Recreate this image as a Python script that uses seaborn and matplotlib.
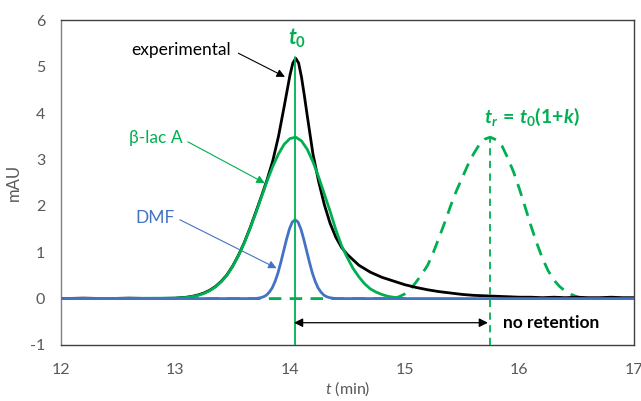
import matplotlib
matplotlib.use("Agg")
import matplotlib.pyplot as plt
import seaborn as sns
import pandas as pd

# ---------------- data ----------------
black_t = [12.0, 12.2, 12.4, 12.6, 12.8, 13.0, 13.1, 13.15, 13.2, 13.25, 13.3, 13.35, 13.4,
           13.45, 13.5, 13.55, 13.6, 13.65, 13.7, 13.75, 13.8, 13.85, 13.9, 13.95, 14.0,
           14.025, 14.05, 14.075, 14.1, 14.125, 14.15, 14.2, 14.25, 14.3, 14.35, 14.4,
           14.45, 14.5, 14.6, 14.7, 14.8, 14.9, 15.0, 15.1, 15.2, 15.3, 15.4, 15.5, 15.6,
           15.7, 15.8, 15.9, 16.0, 16.1, 16.2, 16.3, 16.4, 16.5, 16.6, 16.7, 16.8, 16.9, 17.0]
black_v = [0.0, 0.01, 0.0, 0.01, 0.0, 0.01, 0.03, 0.05, 0.08, 0.12, 0.18, 0.26, 0.37,
           0.51, 0.70, 0.93, 1.20, 1.51, 1.85, 2.20, 2.56, 2.97, 3.50, 4.15, 4.82,
           5.08, 5.18, 5.08, 4.78, 4.38, 3.95, 3.12, 2.52, 2.02, 1.62, 1.32,
           1.10, 0.95, 0.72, 0.57, 0.46, 0.38, 0.30, 0.24, 0.19, 0.15, 0.12, 0.09, 0.07,
           0.06, 0.05, 0.04, 0.03, 0.03, 0.02, 0.03, 0.02, 0.03, 0.02, 0.02, 0.03, 0.02, 0.02]

lacA_t = [12.0, 13.0, 13.1, 13.15, 13.2, 13.25, 13.3, 13.35, 13.4, 13.45, 13.5, 13.55, 13.6,
          13.65, 13.7, 13.75, 13.8, 13.85, 13.9, 13.95, 14.0, 14.05, 14.1, 14.15, 14.2,
          14.25, 14.3, 14.35, 14.4, 14.45, 14.5, 14.55, 14.6, 14.65, 14.7, 14.75, 14.8,
          14.85, 14.9, 14.95, 15.0]
lacA_v = [0.0, 0.01, 0.025, 0.045, 0.07, 0.11, 0.17, 0.25, 0.36, 0.50, 0.69, 0.92, 1.19,
          1.50, 1.83, 2.18, 2.53, 2.85, 3.12, 3.33, 3.45, 3.48, 3.40, 3.22, 2.95,
          2.62, 2.25, 1.88, 1.48, 1.14, 0.88, 0.65, 0.47, 0.32, 0.21, 0.14, 0.09,
          0.05, 0.03, 0.01, 0.0]

ret_t = [12.0, 14.9, 14.95, 15.0, 15.05, 15.1, 15.15, 15.2, 15.25, 15.3, 15.35, 15.4, 15.45,
         15.5, 15.55, 15.6, 15.65, 15.7, 15.745, 15.8, 15.85, 15.9, 15.95, 16.0, 16.05,
         16.1, 16.15, 16.2, 16.25, 16.3, 16.35, 16.4, 16.45, 16.5, 16.55, 16.6, 17.0]
ret_v = [0.0, 0.0, 0.04, 0.10, 0.20, 0.36, 0.53, 0.72, 1.00, 1.32, 1.65, 2.00, 2.32,
         2.60, 2.88, 3.12, 3.32, 3.44, 3.48, 3.42, 3.28, 3.02, 2.72, 2.36, 1.97,
         1.57, 1.20, 0.87, 0.60, 0.40, 0.26, 0.16, 0.09, 0.04, 0.01, 0.0, 0.0]

dmf_t = [12.0, 13.7, 13.745, 13.77, 13.795, 13.82, 13.845, 13.87, 13.895, 13.92, 13.945,
         13.97, 13.995, 14.02, 14.045, 14.07, 14.095, 14.12, 14.145, 14.17, 14.195, 14.22,
         14.245, 14.27, 14.295, 14.32, 14.345, 14.4, 17.0]
dmf_v = [0.0, 0.0, 0.02, 0.04, 0.075, 0.14, 0.23, 0.37, 0.55, 0.78, 1.03,
         1.28, 1.50, 1.65, 1.70, 1.65, 1.50, 1.28, 1.03, 0.78, 0.55, 0.37,
         0.23, 0.14, 0.075, 0.04, 0.02, 0.0, 0.0]

t0 = 14.045
tr = 15.745
x_ticks = [12, 13, 14, 15, 16, 17]
y_ticks = [-1, 0, 1, 2, 3, 4, 5, 6]

# ---------------- style ----------------
sns.set_theme(style="white")
plt.rcParams['font.family'] = ['Lato', 'DejaVu Sans']
plt.rcParams['mathtext.fontset'] = 'custom'
plt.rcParams['mathtext.rm'] = 'Lato:bold'
plt.rcParams['mathtext.it'] = 'Lato:bold:italic'
plt.rcParams['mathtext.bf'] = 'Lato:bold'
plt.rcParams['mathtext.sf'] = 'Lato:italic'

GREEN = '#00B050'
BLUE = '#4472C4'
GREY = '#595959'
DARK = '#404040'

fig = plt.figure(figsize=(6.41, 4.01), dpi=100)
ax = fig.add_axes([0.0944, 0.1397, 0.895, 0.8097])

df_black = pd.DataFrame({'t': black_t, 'v': black_v})
df_lac = pd.DataFrame({'t': lacA_t, 'v': lacA_v})
df_ret = pd.DataFrame({'t': ret_t, 'v': ret_v})
df_dmf = pd.DataFrame({'t': dmf_t, 'v': dmf_v})

sns.lineplot(data=df_ret, x='t', y='v', ax=ax, color=GREEN, lw=2.0, sort=False,
             estimator=None, zorder=2)
ax.lines[-1].set_dashes([4.5, 3])
sns.lineplot(data=df_black, x='t', y='v', ax=ax, color='black', lw=2.0, sort=False,
             estimator=None, zorder=3)
sns.lineplot(data=df_lac, x='t', y='v', ax=ax, color=GREEN, lw=2.0, sort=False,
             estimator=None, zorder=4)
sns.lineplot(data=df_dmf, x='t', y='v', ax=ax, color=BLUE, lw=2.0, sort=False,
             estimator=None, zorder=5)

# vertical markers
ax.plot([t0, t0], [-1, 5.2], color=GREEN, lw=1.3, zorder=6)
ax.plot([tr, tr], [-1, 3.48], color=GREEN, lw=1.3, ls=(0, (4, 3)), zorder=6)

# double arrow
ax.annotate('', xy=(tr - 0.02, -0.52), xytext=(t0 - 0.01, -0.52),
            arrowprops=dict(arrowstyle='<|-|>', color='black', lw=0.9,
                            mutation_scale=13, shrinkA=0, shrinkB=0), zorder=7)
ax.text(15.86, -0.52, 'no retention', fontsize=12.5, fontweight='bold', color='black',
        ha='left', va='center')

# labels
ax.text(14.06, 5.62, r'$t_{\mathit{0}}$', fontsize=15.5, color=GREEN, ha='center', va='center')
ax.text(15.69, 3.92, r'$t_r\,=\,t_{\mathit{0}}(1\!+\!k)$', fontsize=14, color=GREEN,
        ha='left', va='center')

# annotations
ax.text(13.05, 5.36, 'experimental', fontsize=12.5, color='black', ha='center', va='center')
ax.annotate('', xy=(13.956, 4.78), xytext=(13.55, 5.29),
            arrowprops=dict(arrowstyle='-|>', color='black', lw=0.8,
                            mutation_scale=12, shrinkA=0, shrinkB=0))
ax.text(12.83, 3.46, 'β-lac A', fontsize=12.5, color=GREEN, ha='center', va='center')
ax.annotate('', xy=(13.78, 2.49), xytext=(13.11, 3.38),
            arrowprops=dict(arrowstyle='-|>', color=GREEN, lw=0.8,
                            mutation_scale=12, shrinkA=0, shrinkB=0))
ax.text(12.82, 1.73, 'DMF', fontsize=12.5, color=BLUE, ha='center', va='center')
ax.annotate('', xy=(13.883, 0.655), xytext=(13.04, 1.70),
            arrowprops=dict(arrowstyle='-|>', color=BLUE, lw=0.8,
                            mutation_scale=12, shrinkA=0, shrinkB=0))

# axes
ax.set_xlim(12, 17)
ax.set_ylim(-1, 6)
ax.set_xticks(x_ticks)
ax.set_yticks(y_ticks)
ax.set_xticklabels([str(v) for v in x_ticks])
ax.set_yticklabels([str(v) for v in y_ticks])
ax.tick_params(axis='both', direction='inout', length=8, width=1, labelsize=11.5,
               labelcolor=GREY)
ax.tick_params(axis='y', colors='#808080', labelcolor=GREY, pad=7)
ax.tick_params(axis='x', colors=DARK, labelcolor=GREY, pad=9)
for side in ['top', 'right', 'bottom']:
    ax.spines[side].set_color(DARK)
    ax.spines[side].set_linewidth(1.0)
ax.spines['left'].set_color('#808080')
ax.spines['left'].set_linewidth(1.0)
ax.set_ylabel('mAU', fontsize=12, color=GREY, labelpad=6)
ax.set_xlabel(r'$\mathsf{t}$ (min)', fontsize=11.5, color=GREY, labelpad=2)

fig.savefig('out.png', dpi=100)
